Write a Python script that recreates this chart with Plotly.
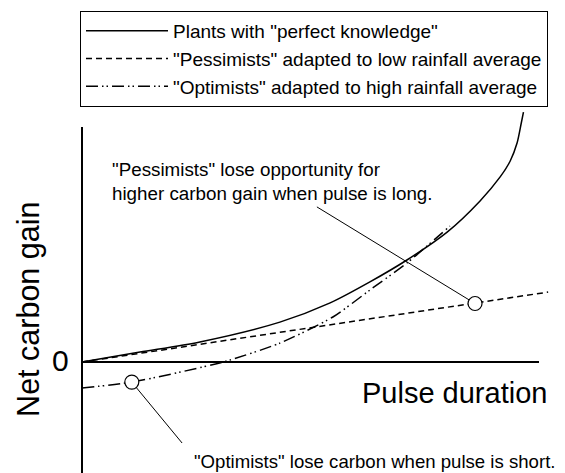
import plotly.graph_objects as go

# ---- data (arbitrary units: pulse duration vs net carbon gain) ----
perfect_x = [0, 1.27, 2.58, 4.33, 5.43, 6.30, 7.11, 7.99, 8.71, 9.15, 9.37, 9.52, 9.61, 9.66]
perfect_y = [0, 0.33, 0.67, 1.33, 1.97, 2.67, 3.40, 4.33, 5.37, 6.17, 6.70, 7.30, 7.95, 8.33]

pess_x = [0, 8.6, 10.2]
pess_y = [0, 1.95, 2.33]

opt_x = [0, 1.09, 3.09, 4.33, 5.49, 6.30, 7.11, 8.05]
opt_y = [-0.87, -0.67, 0, 0.63, 1.50, 2.40, 3.30, 4.53]

highlight_x = [1.09, 8.6]
highlight_y = [-0.67, 1.95]

series_names = [
    'Plants with "perfect knowledge"',
    '"Pessimists" adapted to low rainfall average',
    '"Optimists" adapted to high rainfall average',
]

# page body has an 8px margin, so the figure is drawn 8px smaller and offset
OFF = 8
W, H = 565 - OFF, 473 - OFF
X0PX, Y0PX = 82 - OFF, 362 - OFF   # pixel position of the origin inside the figure
PXX, PXY = 45.7, 30.0              # pixels per data unit
FONT = "Liberation Sans, Arial, sans-serif"

fig = go.Figure()
fig.add_trace(go.Scatter(x=perfect_x, y=perfect_y, mode="lines", name=series_names[0],
                         line=dict(color="black", width=1.5, shape="spline", smoothing=0.8)))
fig.add_trace(go.Scatter(x=pess_x, y=pess_y, mode="lines", name=series_names[1],
                         line=dict(color="black", width=1.5, dash="6px,4px")))
fig.add_trace(go.Scatter(x=opt_x, y=opt_y, mode="lines", name=series_names[2],
                         line=dict(color="black", width=1.5, dash="12px,4px,1.5px,3px,1.5px,4px",
                                   shape="spline", smoothing=0.6)))
fig.add_trace(go.Scatter(x=highlight_x, y=highlight_y, mode="markers", showlegend=False,
                         marker=dict(size=14, color="white", line=dict(color="black", width=1.2)),
                         cliponaxis=False))

# axes drawn as lines in data coordinates
fig.add_shape(type="line", x0=0, x1=0, y0=-3.8, y1=7.83, line=dict(color="black", width=2), layer="below")
fig.add_shape(type="line", x0=0, x1=10, y0=0, y1=0, line=dict(color="black", width=2), layer="below")
# leader lines
fig.add_shape(type="line", x0=5.14, y0=5.17, x1=8.6, y1=1.95, line=dict(color="black", width=1), layer="below")
fig.add_shape(type="line", x0=1.09, y0=-0.67, x1=2.19, y1=-2.7, line=dict(color="black", width=1), layer="below")

fig.add_annotation(x=0.62, y=6.02, xref="x", yref="y", xanchor="left", yanchor="middle",
                   text='"Pessimists" lose opportunity for<br>higher carbon gain when pulse is long.',
                   showarrow=False, align="left", font=dict(family=FONT, size=18.8, color="black"))
fig.add_annotation(x=2.40, y=-3.33, xref="x", yref="y", xanchor="left", yanchor="middle",
                   text='"Optimists" lose carbon when pulse is short.',
                   showarrow=False, align="left", font=dict(family=FONT, size=18.6, color="black"))
fig.add_annotation(x=10.22, y=-1.03, xref="x", yref="y", xanchor="right", yanchor="middle",
                   text="Pulse duration", showarrow=False,
                   font=dict(family=FONT, size=29, color="black"))
fig.add_annotation(x=-0.48, y=0.05, xref="x", yref="y", xanchor="center", yanchor="middle",
                   text="0", showarrow=False, font=dict(family=FONT, size=30, color="black"))
fig.add_annotation(x=-1.16, y=1.77, xref="x", yref="y", xanchor="center", yanchor="middle",
                   text="Net carbon gain", textangle=-90, showarrow=False,
                   font=dict(family=FONT, size=30.5, color="black"))

fig.update_layout(
    width=W, height=H,
    margin=dict(l=0, r=0, t=0, b=0),
    paper_bgcolor="white", plot_bgcolor="white",
    xaxis=dict(range=[-X0PX / PXX, (W - X0PX) / PXX], visible=False, fixedrange=True),
    yaxis=dict(range=[-(H - Y0PX) / PXY, Y0PX / PXY], visible=False, fixedrange=True),
    showlegend=True,
    legend=dict(x=(80 - OFF) / W, y=1 - (11 - OFF) / H, xanchor="left", yanchor="top",
                bordercolor="black", borderwidth=1, bgcolor="white",
                font=dict(family=FONT, size=19, color="black"),
                itemwidth=82, tracegroupgap=0),
    font=dict(family=FONT),
)

fig.write_html("out.html")
